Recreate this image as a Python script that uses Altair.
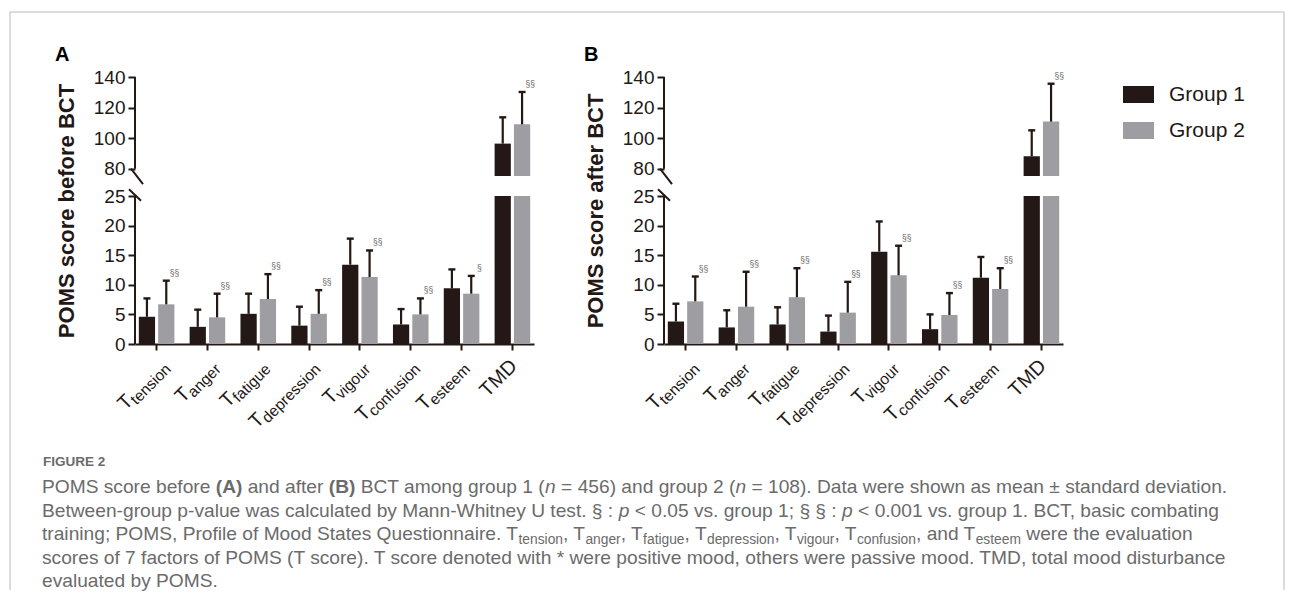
import altair as alt
import pandas as pd

# ---------------- data ----------------
factor_keys = ["tension", "anger", "fatigue", "depression", "vigour", "confusion", "esteem", "TMD"]
label_main = ["T", "T", "T", "T", "T", "T", "T", "TMD"]
label_sub = ["tension", "anger", "fatigue", "depression", "vigour", "confusion", "esteem", ""]
groups = ["Group 1", "Group 2"]

before_g1_mean = [4.6, 2.9, 5.1, 3.1, 13.4, 3.3, 9.4, 96.4]
before_g1_sd = [3.1, 2.9, 3.4, 3.2, 4.4, 2.6, 3.2, 17.2]
before_g2_mean = [6.7, 4.5, 7.6, 5.1, 11.3, 5.0, 8.5, 109.0]
before_g2_sd = [4.0, 4.0, 4.2, 4.0, 4.5, 2.7, 3.0, 21.2]
before_sig = ["§§", "§§", "§§", "§§", "§§", "§§", "§", "§§"]

after_g1_mean = [3.8, 2.8, 3.3, 2.1, 15.6, 2.5, 11.2, 88.1]
after_g1_sd = [3.0, 2.9, 2.9, 2.7, 5.1, 2.5, 3.5, 17.0]
after_g2_mean = [7.2, 6.3, 7.9, 5.3, 11.6, 4.9, 9.3, 110.8]
after_g2_sd = [4.2, 5.9, 4.9, 5.2, 5.0, 3.7, 3.5, 24.8]
after_sig = ["§§", "§§", "§§", "§§", "§§", "§§", "§§", "§§"]

y_ticks = [0, 5, 10, 15, 20, 25, 80, 100, 120, 140]
y_break = [25, 75.2]  # top of lower segment, bottom of upper segment
y_top = 140

panel_letters = ["A", "B"]
panel_titles = ["POMS score before BCT", "POMS score after BCT"]

figure_label = "FIGURE 2"
caption_lines = [
    [("POMS score before ", "r"), ("(A)", "b"), (" and after ", "r"), ("(B)", "b"),
     (" BCT among group 1 (", "r"), ("n", "i"), (" = 456) and group 2 (", "r"), ("n", "i"),
     (" = 108). Data were shown as mean ± standard deviation.", "r")],
    [("Between-group p-value was calculated by Mann-Whitney U test. § : ", "r"), ("p", "i"),
     (" < 0.05 vs. group 1; § § : ", "r"), ("p", "i"),
     (" < 0.001 vs. group 1. BCT, basic combating", "r")],
    [("training; POMS, Profile of Mood States Questionnaire. T", "r"), ("tension", "s"),
     (", T", "r"), ("anger", "s"), (", T", "r"), ("fatigue", "s"), (", T", "r"),
     ("depression", "s"), (", T", "r"), ("vigour", "s"), (", T", "r"), ("confusion", "s"),
     (", and T", "r"), ("esteem", "s"), (" were the evaluation", "r")],
    [("scores of 7 factors of POMS (T score). T score denoted with * were positive mood, "
      "others were passive mood. TMD, total mood disturbance", "r")],
    [("evaluated by POMS.", "r")],
]

# ---------------- layout / style ----------------
FONT = "Liberation Sans, Arial, Helvetica, sans-serif"
DARK = "#231815"
GRAY = "#9e9ea2"
SIGC = "#666666"
CAPC = "#6b6b6b"
W, H = 1274, 578
Y_RANGE = [332, 184, 164, 65]
AXES_X = [125, 654]
PANEL_W = 399
LAB_T, LAB_S = 20, 15.5

YS = alt.Scale(domain=[0, y_break[0], y_break[1], y_top], range=Y_RANGE, zero=False, nice=False)
CS = alt.Scale(domain=groups, range=[DARK, GRAY])

# Arial / Liberation Sans advance widths (1/1000 em)
AR = {' ': 278, '!': 278, '(': 333, ')': 333, '*': 389, ',': 278, '-': 333, '.': 278, '/': 278,
      ':': 278, ';': 278, '<': 584, '=': 584, '>': 584, '±': 584, '§': 556}
for d in "0123456789":
    AR[d] = 556
AR.update(dict(zip("ABCDEFGHIJKLMNOPQRSTUVWXYZ",
                   [667, 667, 722, 722, 667, 611, 778, 722, 278, 500, 667, 556, 833, 722, 778,
                    667, 778, 722, 667, 611, 722, 667, 944, 667, 667, 611])))
AR.update(dict(zip("abcdefghijklmnopqrstuvwxyz",
                   [556, 556, 500, 556, 556, 278, 556, 556, 222, 222, 500, 222, 833, 556, 556,
                    556, 556, 333, 500, 278, 556, 500, 722, 500, 500, 500])))
ARB = {'(': 333, ')': 333, 'A': 722, 'B': 722}


def tw(s, size, bold=False):
    return sum((ARB.get(c, AR.get(c, 556)) if bold else AR.get(c, 556)) for c in s) / 1000 * size


one = pd.DataFrame({"d": [0]})


def panel_layers(idx, g1m, g1s, g2m, g2s, sig):
    ax = AXES_X[idx]
    XS = alt.Scale(domain=factor_keys, range=[ax, ax + PANEL_W], paddingInner=0.3, paddingOuter=0.075)
    XO = alt.XOffset("group:N", scale=alt.Scale(domain=groups, paddingInner=0.16, paddingOuter=0))
    xn = alt.X("cat:N", scale=XS, axis=None)

    rows, seg = [], []
    for i, k in enumerate(factor_keys):
        for g, m, s in (("Group 1", g1m[i], g1s[i]), ("Group 2", g2m[i], g2s[i])):
            rows.append(dict(cat=k, group=g, mean=m, top=m + s, sig=sig[i] if g == "Group 2" else ""))
            if m > y_break[1]:
                seg.append(dict(cat=k, group=g, lo=0, hi=y_break[0]))
                seg.append(dict(cat=k, group=g, lo=y_break[1], hi=m))
            else:
                seg.append(dict(cat=k, group=g, lo=0, hi=m))
    df = pd.DataFrame(rows)
    sdf = pd.DataFrame(seg)

    bars = alt.Chart(sdf).mark_bar().encode(
        x=alt.X("cat:N", scale=XS, axis=alt.Axis(
            orient="bottom", offset=-(H - Y_RANGE[0]), labels=False, title=None, grid=False,
            domain=True, domainWidth=2, domainColor=DARK, ticks=True, tickSize=6, tickWidth=2,
            tickColor=DARK)),
        xOffset=XO,
        y=alt.Y("lo:Q", scale=YS, axis=alt.Axis(
            orient="left", offset=-ax, values=y_ticks, domain=False, grid=False,
            ticks=True, tickSize=7, tickWidth=2, tickColor=DARK,
            labelFont=FONT, labelFontSize=19, labelColor=DARK, labelPadding=3,
            labelOverlap=False, labelFlush=False, labelBound=False,
            title=panel_titles[idx], titleFont=FONT, titleFontSize=22, titleFontWeight="bold",
            titleColor=DARK, titlePadding=15)),
        y2="hi:Q",
        color=alt.Color("group:N", scale=CS, legend=alt.Legend(
            orient="none", legendX=1113, legendY=67, title=None, direction="vertical",
            symbolType="M-1,-0.55H1V0.55H-1Z", symbolSize=961, symbolStrokeWidth=0,
            symbolOpacity=1, labelFont=FONT, labelFontSize=21, labelColor=DARK,
            labelOffset=15, rowPadding=10, padding=0)),
    )
    err = alt.Chart(df).mark_rule(color=DARK, strokeWidth=2.2).encode(
        x=xn, xOffset=XO,
        y=alt.Y("mean:Q", scale=YS, axis=None), y2="top:Q")
    caps = alt.Chart(df).mark_tick(color=DARK, thickness=2.4, size=7, opacity=1).encode(
        x=xn, xOffset=XO, y=alt.Y("top:Q", scale=YS, axis=None))
    sigs = alt.Chart(df[df["sig"] != ""]).mark_text(
        dy=-5, fontSize=8.5, color=SIGC, baseline="alphabetic", font=FONT).encode(
        x=xn, xOffset=XO, y=alt.Y("top:Q", scale=YS, axis=None), text="sig:N")

    axis_df = pd.DataFrame({"y0": [0, 80], "y1": [y_break[0], y_top]})
    axis_lines = alt.Chart(axis_df).mark_rule(color=DARK, strokeWidth=2).encode(
        x=alt.value(ax), y=alt.Y("y0:Q", scale=YS, axis=None), y2="y1:Q")
    slash_df = pd.DataFrame({"px0": [ax - 4, ax - 6], "px1": [ax + 8, ax + 6],
                             "v0": [80, 42], "v1": [55, 24.2]})
    slashes = alt.Chart(slash_df).mark_rule(color=DARK, strokeWidth=2).encode(
        x=alt.X("px0:Q", scale=None, axis=None), x2="px1:Q",
        y=alt.Y("v0:Q", scale=YS, axis=None), y2="v1:Q")

    lab = pd.DataFrame({"cat": factor_keys, "main": label_main, "sub": label_sub})
    lab["tdx"] = [-10 - tw(s, LAB_S) + (0.5 if s else 0) for s in label_sub]
    sub_t = alt.Chart(lab).mark_text(
        angle=315, align="right", baseline="alphabetic", dx=-10, dy=27, fontSize=LAB_S,
        font=FONT, color=DARK).encode(x=xn, y=alt.value(Y_RANGE[0]), text="sub:N")
    main_t = alt.Chart(lab).mark_text(
        angle=315, align="right", baseline="alphabetic", dx=alt.expr("datum.tdx"), dy=23,
        fontSize=LAB_T, font=FONT, color=DARK).encode(x=xn, y=alt.value(Y_RANGE[0]), text="main:N")

    letter = alt.Chart(one).mark_text(
        align="left", baseline="alphabetic", fontSize=20, fontWeight="bold", font=FONT,
        color="#000000").encode(x=alt.value(ax - 80), y=alt.value(49),
                                text=alt.value(panel_letters[idx]))
    return [bars, err, caps, sigs, axis_lines, slashes, sub_t, main_t, letter]


layers = []
layers += panel_layers(0, before_g1_mean, before_g1_sd, before_g2_mean, before_g2_sd, before_sig)
layers += panel_layers(1, after_g1_mean, after_g1_sd, after_g2_mean, after_g2_sd, after_sig)

# ---------------- caption ----------------
CAP_X = 32
CAP_Y0 = 481
CAP_DY = 23.5
line1_em = sum(tw(t, 1, k == "b") for t, k in caption_lines[0])
F = 1186 / line1_em
FS = F * 0.72
cap_rows = []
for li, segs in enumerate(caption_lines):
    x = CAP_X
    for t, k in segs:
        size = FS if k == "s" else F
        lead = len(t) - len(t.lstrip())
        cap_rows.append(dict(x=x + tw(" ", size) * lead, y=CAP_Y0 + li * CAP_DY + (3.5 if k == "s" else 0),
                             text=t.strip(), kind=k))
        x += tw(t, size, k == "b")
cap = pd.DataFrame(cap_rows)
cap = cap[cap["text"] != ""]

styles = {"r": dict(), "b": dict(fontWeight="bold"), "i": dict(fontStyle="italic"), "s": dict()}
for k, extra in styles.items():
    sz = FS if k == "s" else F
    layers.append(alt.Chart(cap[cap["kind"] == k]).mark_text(
        align="left", baseline="alphabetic", font=FONT, fontSize=sz, color=CAPC, **extra).encode(
        x=alt.X("x:Q", scale=None, axis=None), y=alt.Y("y:Q", scale=None, axis=None), text="text:N"))

layers.append(alt.Chart(one).mark_text(
    align="left", baseline="alphabetic", font=FONT, fontSize=13.5, fontWeight="bold", color=CAPC).encode(
    x=alt.value(33), y=alt.value(454), text=alt.value(figure_label)))

# ---------------- frame ----------------
FR = dict(color="#d0d0d0", strokeWidth=1.5)
layers.append(alt.Chart(one).mark_rule(**FR).encode(x=alt.value(0), x2=alt.value(W), y=alt.value(0)))
layers.append(alt.Chart(one).mark_rule(**FR).encode(x=alt.value(0), y=alt.value(0), y2=alt.value(H)))
layers.append(alt.Chart(one).mark_rule(**FR).encode(x=alt.value(W), y=alt.value(0), y2=alt.value(H)))

chart = alt.layer(*layers).properties(
    width=W, height=H, padding={"left": 1, "top": 3, "right": 0, "bottom": 0}
).resolve_scale(x="independent", y="independent", xOffset="independent").configure_view(stroke=None)

chart.save("out.html", embed_options={"renderer": "svg", "actions": False})
